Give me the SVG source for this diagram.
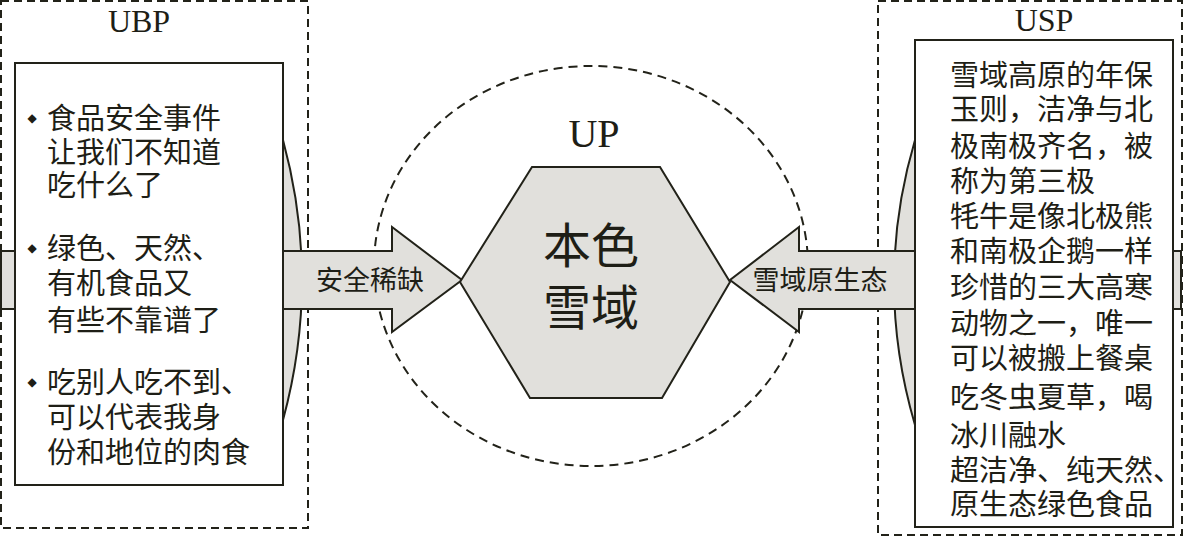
<svg xmlns="http://www.w3.org/2000/svg" width="1183" height="538" viewBox="0 0 1183 538">
<style>
.dash{fill:none;stroke:#222219;stroke-width:2;stroke-dasharray:8 5}
.circ{fill:none;stroke:#222219;stroke-width:2;stroke-dasharray:9 6}
.shape{fill:#e1e0dc;stroke:#222219;stroke-width:2;stroke-linejoin:miter}
.box{fill:#ffffff;stroke:#222219;stroke-width:2}
.lat{font-family:"Liberation Serif",serif;fill:#1e1e16;text-anchor:middle}
.cjk{font-family:"Noto Sans CJK SC",sans-serif;fill:#1e1e16;font-size:27px}
.body{font-family:"Noto Sans CJK SC",sans-serif;fill:#1e1e16;font-size:29px}
.mid{text-anchor:middle}
.bul{font-family:"DejaVu Sans",sans-serif;font-size:12px;fill:#1e1e16;text-anchor:middle}
</style>
<rect width="1183" height="538" fill="#ffffff"/>
<g id="UP-area">
<ellipse class="circ" cx="591" cy="266" rx="217" ry="200"/>
<text class="lat" x="594" y="147" font-size="40">UP</text>
</g>
<g id="UBP">
<rect class="dash" x="1" y="1" width="307" height="527"/>
<text class="lat" x="139" y="32" font-size="32">UBP</text>
<path class="shape" d="M283,140 Q321,280 283,420 Z"/>
</g>
<g id="USP">
<rect class="dash" x="878" y="1" width="304" height="534"/>
<text class="lat" x="1044" y="31" font-size="32">USP</text>
<path class="shape" d="M915,140 Q873,282 915,425 Z"/>
</g>
<g id="connectors">
<path class="shape" d="M1,251 H392 V227 L462,280 L392,332 V309 H1 Z"/>
<text class="cjk mid" x="370" y="290">安全稀缺</text>
<path class="shape" d="M1181,251 H799 V227 L730,280 L799,332 V309 H1181 Z"/>
<text class="cjk mid" x="820" y="290">雪域原生态</text>
</g>
<g id="UBP-box">
<rect class="box" x="15" y="63" width="268" height="422"/>
<text class="bul"><tspan x="32" y="122">◆</tspan><tspan x="32" y="252">◆</tspan><tspan x="32" y="386">◆</tspan></text>
<text class="body">
<tspan x="47" y="129">食品安全事件</tspan>
<tspan x="47" y="163">让我们不知道</tspan>
<tspan x="47" y="196">吃什么了</tspan>
<tspan x="47" y="259">绿色、天然、</tspan>
<tspan x="47" y="294">有机食品又</tspan>
<tspan x="47" y="331">有些不靠谱了</tspan>
<tspan x="47" y="393">吃别人吃不到、</tspan>
<tspan x="47" y="428">可以代表我身</tspan>
<tspan x="47" y="463">份和地位的肉食</tspan>
</text>
</g>
<g id="USP-box">
<rect class="box" x="915" y="40" width="258" height="487"/>
<text class="body">
<tspan x="950" y="86">雪域高原的年保</tspan>
<tspan x="950" y="120">玉则，洁净与北</tspan>
<tspan x="950" y="157">极南极齐名，被</tspan>
<tspan x="950" y="192">称为第三极</tspan>
<tspan x="950" y="227">牦牛是像北极熊</tspan>
<tspan x="950" y="262">和南极企鹅一样</tspan>
<tspan x="950" y="298">珍惜的三大高寒</tspan>
<tspan x="950" y="334">动物之一，唯一</tspan>
<tspan x="950" y="369">可以被搬上餐桌</tspan>
<tspan x="950" y="408">吃冬虫夏草，喝</tspan>
<tspan x="950" y="446">冰川融水</tspan>
<tspan x="950" y="481">超洁净、纯天然、</tspan>
<tspan x="950" y="515">原生态绿色食品</tspan>
</text>
</g>
<g id="core">
<polygon class="shape" points="460,282 532,167 660,167 730,282 662,398 530,398"/>
<text class="cjk mid" style="font-size:48px"><tspan x="591" y="263">本色</tspan><tspan x="591" y="325">雪域</tspan></text>
</g>
</svg>
